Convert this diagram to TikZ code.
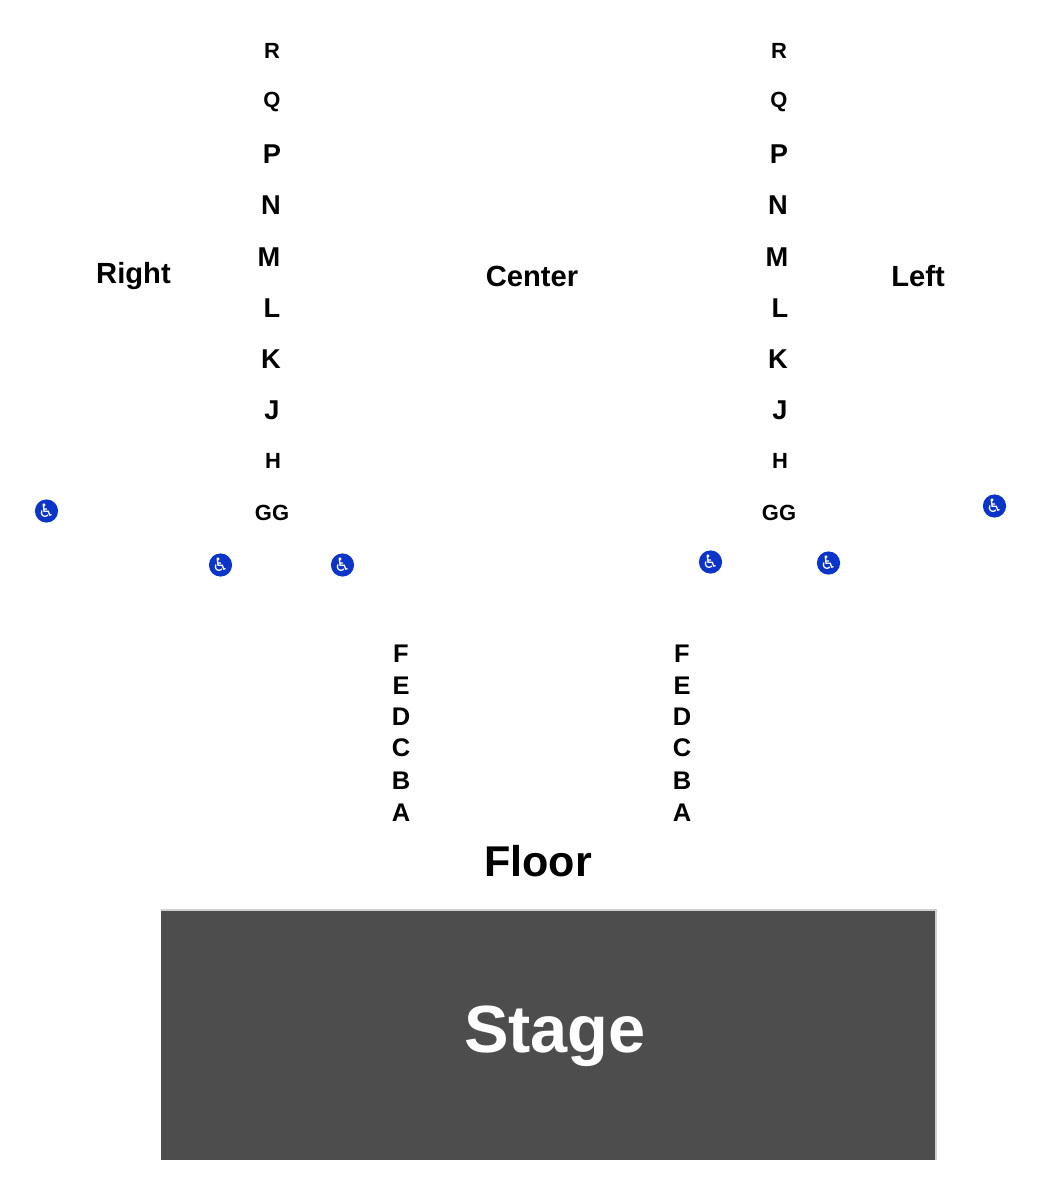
\documentclass[tikz,border=0pt]{standalone}
\usepackage{fontspec}
\setmainfont{Liberation Sans}
\newfontfamily\iconfont{DejaVu Sans}
\definecolor{stagegrey}{HTML}{4D4D4D}
\definecolor{stageedge}{HTML}{CFCFCF}
\definecolor{accessblue}{HTML}{0A35C8}
\tikzset{
  rowbig/.style={font=\bfseries\fontsize{15.5}{18}\selectfont, inner sep=0pt},
  rowsmall/.style={font=\bfseries\fontsize{12.5}{15}\selectfont, inner sep=0pt},
  rowfloor/.style={font=\bfseries\fontsize{14.5}{17}\selectfont, inner sep=0pt},
  section/.style={font=\bfseries\fontsize{16.6}{20}\selectfont, inner sep=0pt},
  access/.style={circle, fill=accessblue, text=white, inner sep=0pt, minimum size=13.2pt,
    font=\iconfont\fontsize{10.5}{11}\selectfont},
}
\begin{document}
\begin{tikzpicture}[x=0.02cm, y=-0.02cm]
\useasboundingbox (0,0) rectangle (1050,1200);
% right block rows
\node (rR) at (272,51) [rowsmall] {R};
\node (rQ) at (272,102) [rowsmall] {Q};
\node (rP) at (272,154) [rowbig] {P};
\node (rN) at (271,205) [rowbig] {N};
\node (rM) at (269,257) [rowbig] {M};
\node (rL) at (272,308) [rowbig] {L};
\node (rK) at (271,359) [rowbig] {K};
\node (rJ) at (272,410) [rowbig] {J};
\node (rH) at (273,461) [rowsmall] {H};
\node (rGG) at (272,513) [rowsmall] {GG};
% left block rows
\node (lR) at (779,51) [rowsmall] {R};
\node (lQ) at (779,102) [rowsmall] {Q};
\node (lP) at (779,154) [rowbig] {P};
\node (lN) at (778,205) [rowbig] {N};
\node (lM) at (777,257) [rowbig] {M};
\node (lL) at (780,308) [rowbig] {L};
\node (lK) at (778,359) [rowbig] {K};
\node (lJ) at (780,410) [rowbig] {J};
\node (lH) at (780,461) [rowsmall] {H};
\node (lGG) at (779,513) [rowsmall] {GG};
% floor rows
\node (fF) at (401,654) [rowfloor] {F};
\node (fE) at (401,686) [rowfloor] {E};
\node (fD) at (401,717) [rowfloor] {D};
\node (fC) at (401,748) [rowfloor] {C};
\node (fB) at (401,781) [rowfloor] {B};
\node (fA) at (401,813) [rowfloor] {A};
\node (gF) at (682,654) [rowfloor] {F};
\node (gE) at (682,686) [rowfloor] {E};
\node (gD) at (682,717) [rowfloor] {D};
\node (gC) at (682,748) [rowfloor] {C};
\node (gB) at (682,781) [rowfloor] {B};
\node (gA) at (682,813) [rowfloor] {A};
% section names
\node (right) at (133.5,276) [section] {Right};
\node (center) at (532,276) [section] {Center};
\node (left) at (918,276) [section] {Left};
\node (floor) at (538,861) [inner sep=0pt, font=\bfseries\fontsize{24.5}{28}\selectfont] {Floor};
% wheelchair seats
\node (w1) at (46.5,511) [access] {♿};
\node (w2) at (220.5,565) [access] {♿};
\node (w3) at (342.5,565) [access] {♿};
\node (w4) at (710.5,562) [access] {♿};
\node (w5) at (828.5,563) [access] {♿};
\node (w6) at (994.5,506) [access] {♿};
% stage
\node (stage) at (548.5,1035) [fill=stagegrey, draw=none, text=white, inner sep=0pt,
  minimum width=775*0.02cm, minimum height=250*0.02cm] {};
\node (stagetext) at (555,1036) [text=white, inner sep=0pt, font=\bfseries\fontsize{38}{42}\selectfont] {Stage};
\draw[stageedge, line width=1pt] (stage.north west) -- (stage.north east) -- (stage.south east);
\end{tikzpicture}
\end{document}
